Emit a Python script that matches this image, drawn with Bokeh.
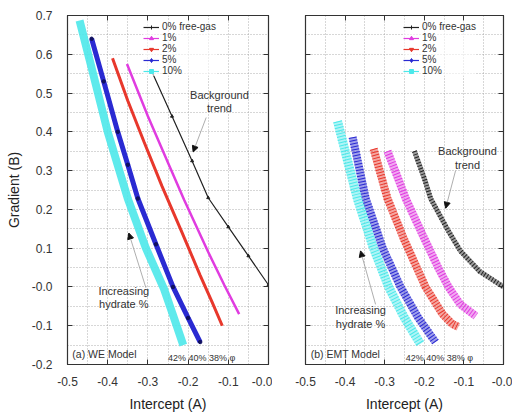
from bokeh.plotting import figure
from bokeh.layouts import row
from bokeh.models import (FixedTicker, LinearAxis, CustomJSTickFormatter, Label, Arrow,
                          NormalHead, Range1d, Legend, LegendItem)
from bokeh.embed import file_html
from bokeh.resources import INLINE

FONT = "Liberation Sans"
NAN = float("nan")

series_names = ["0% free-gas", "1%", "2%", "5%", "10%"]
series_colors = ["#222222", "#e03ce0", "#e8382c", "#2a2ad2", "#4ce8ea"]
legend_markers = ["cross", "triangle", "inverted_triangle", "diamond", "square"]

x_ticks = [-0.5, -0.4, -0.3, -0.2, -0.1, 0.0]
y_ticks = [-0.2, -0.1, 0.0, 0.1, 0.2, 0.3, 0.4, 0.5, 0.6, 0.7]
x_minor = [-0.45, -0.35, -0.25, -0.15, -0.05]
y_minor = [-0.15, -0.05, 0.05, 0.15, 0.25, 0.35, 0.45, 0.55, 0.65]

# (a) WE model
we_x = [
    [-0.29, -0.24, -0.19, -0.15, -0.10, -0.05, 0.0],
    [-0.352, -0.30, -0.25, -0.21, -0.15, -0.11, -0.073],
    [-0.388, -0.35, -0.31, -0.265, -0.215, -0.17, -0.14, -0.115],
    [-0.44, -0.41, -0.375, -0.35, -0.325, -0.28, -0.2375, -0.20, -0.17],
    [-0.47, -0.44, -0.40, -0.35, -0.305, -0.26, -0.235, -0.212],
]
we_y = [
    [0.555, 0.44, 0.325, 0.23, 0.155, 0.08, 0.005],
    [0.575, 0.44, 0.32, 0.225, 0.09, 0.005, -0.07],
    [0.59, 0.48, 0.375, 0.26, 0.14, 0.03, -0.04, -0.10],
    [0.64, 0.53, 0.40, 0.315, 0.228, 0.11, 0.0, -0.08, -0.142],
    [0.687, 0.565, 0.40, 0.228, 0.10, -0.005, -0.08, -0.15],
]

# (b) EMT model
emt_x = [
    [-0.225, -0.20, -0.184, -0.139, -0.109, -0.06, 0.0],
    [-0.293, -0.27, -0.247, -0.20, -0.165, -0.139, -0.109, -0.07],
    [-0.328, -0.31, -0.293, -0.25, -0.197, -0.154, -0.13, -0.114],
    [-0.381, -0.365, -0.348, -0.305, -0.26, -0.215, -0.172],
    [-0.419, -0.395, -0.369, -0.33, -0.29, -0.25, -0.21],
]
emt_y = [
    [0.35, 0.28, 0.228, 0.144, 0.093, 0.04, 0.0],
    [0.35, 0.29, 0.228, 0.125, 0.05, 0.0, -0.045, -0.075],
    [0.356, 0.29, 0.228, 0.12, 0.0, -0.07, -0.095, -0.103],
    [0.386, 0.31, 0.228, 0.10, 0.0, -0.08, -0.142],
    [0.427, 0.33, 0.228, 0.105, 0.0, -0.08, -0.147],
]

FMT_CODE = """
const s = tick.toFixed(1);
return (s === "0.0" || s === "-0.0") ? "-0.0" : s;
"""
BLANK_CODE = "return '';"


def make_panel(width, border_left, border_right, show_y):
    p = figure(width=width, height=414, output_backend="svg", toolbar_location=None,
               x_range=Range1d(-0.5, 0.0), y_range=Range1d(-0.2, 0.7),
               min_border_left=border_left, min_border_right=border_right,
               min_border_top=15, min_border_bottom=46)
    p.background_fill_color = "white"
    p.outline_line_color = "#333333"
    p.outline_line_width = 1.2
    xt = FixedTicker(ticks=x_ticks, minor_ticks=x_minor)
    yt = FixedTicker(ticks=y_ticks, minor_ticks=y_minor)
    p.xaxis.ticker = xt
    p.yaxis.ticker = yt
    p.xaxis.formatter = CustomJSTickFormatter(code=FMT_CODE)
    p.yaxis.formatter = CustomJSTickFormatter(code=FMT_CODE if show_y else BLANK_CODE)
    for ax in [p.xaxis[0], p.yaxis[0]]:
        ax.major_tick_in = 5
        ax.major_tick_out = 0
        ax.minor_tick_line_color = None
        ax.axis_line_color = "#333333"
        ax.major_tick_line_color = "#333333"
        ax.major_label_text_font = FONT
        ax.major_label_text_font_size = "12px"
        ax.major_label_text_color = "#333333"
        ax.axis_label_text_font = FONT
        ax.axis_label_text_font_style = "normal"
        ax.axis_label_text_font_size = "14px"
        ax.axis_label_text_color = "#222222"
    p.xaxis.axis_label = "Intercept (A)"
    p.xaxis.axis_label_standoff = 7
    p.xaxis.major_label_standoff = 8
    if show_y:
        p.yaxis.axis_label = "Gradient (B)"
        p.yaxis.axis_label_standoff = 7
        p.yaxis.major_label_standoff = 11
    else:
        p.yaxis.major_label_standoff = 0
    for loc, tk in [("above", xt), ("right", yt)]:
        ax = LinearAxis(ticker=tk, formatter=CustomJSTickFormatter(code=BLANK_CODE),
                        major_tick_in=5, major_tick_out=0, major_label_standoff=0,
                        minor_tick_line_color=None, axis_line_color="#333333",
                        major_tick_line_color="#333333")
        p.add_layout(ax, loc)
    for g in [p.xgrid[0], p.ygrid[0]]:
        g.grid_line_color = "#9a9a9a"
        g.grid_line_dash = "1 2"
        g.grid_line_width = 0.8
        g.minor_grid_line_color = "#9a9a9a"
        g.minor_grid_line_dash = "1 2"
        g.minor_grid_line_width = 0.8
    return p


def add_text(p, x, y, text, size, align="left", baseline="middle", color="#333333"):
    p.add_layout(Label(x=x, y=y, text=text, text_font=FONT, text_font_size=size,
                       text_align=align, text_baseline=baseline, text_color=color,
                       text_line_height=1.1))


def add_arrow(p, x0, y0, x1, y1):
    p.add_layout(Arrow(end=NormalHead(size=6, fill_color="#111111", line_color="#111111"),
                       x_start=x0, y_start=y0, x_end=x1, y_end=y1,
                       line_color="#999999", line_width=0.8))


def add_legend(p, loc):
    items = []
    for name, col, mk in zip(series_names, series_colors, legend_markers):
        rl = p.line(x=[NAN], y=[NAN], line_color=col, line_width=1.2)
        rm = p.scatter(x=[NAN], y=[NAN], marker=mk, size=5, line_color=col, fill_color=col)
        items.append(LegendItem(label=name, renderers=[rl, rm]))
    leg = Legend(items=items, location=loc, border_line_color=None,
                 background_fill_alpha=0.6, label_text_font=FONT,
                 label_text_font_size="10px", label_text_color="#333333",
                 glyph_width=16, glyph_height=10, label_height=10, spacing=0,
                 padding=2, margin=0, label_standoff=3)
    p.add_layout(leg)


# ---- panel (a)
p1 = make_panel(272, 67, 4, True)
we_widths = [1.2, 2.5, 3, 5, 8]
for i in range(5):
    p1.line(we_x[i], we_y[i], line_color=series_colors[i], line_width=we_widths[i],
            line_alpha=0.9 if i == 4 else 1.0)
p1.scatter(we_x[3], we_y[3], size=3.5, color="#101060")
p1.scatter(we_x[0], we_y[0], marker="triangle", size=3, color="#222222")
add_legend(p1, (76, 288))
add_text(p1, -0.122, 0.51, "Background\ntrend", "11px", align="center", baseline="top")
add_arrow(p1, -0.155, 0.437, -0.1875, 0.348)
add_text(p1, -0.36, 0.005, "Increasing\nhydrate %", "11px", align="center", baseline="top")
add_arrow(p1, -0.305, -0.002, -0.3475, 0.139)
add_text(p1, -0.488, -0.172, "(a) WE Model", "10.5px")
add_text(p1, -0.25, -0.184, "42% 40% 38% \u03c6", "9px")

# ---- panel (b)
p2 = make_panel(240, 33, 9, False)
emt_widths = [5, 8, 8, 8, 9]
for i in range(5):
    p2.line(emt_x[i], emt_y[i], line_color=series_colors[i], line_width=emt_widths[i],
            line_alpha=0.45)
    p2.line(emt_x[i], emt_y[i], line_color=series_colors[i], line_width=emt_widths[i],
            line_dash="1 2")
add_legend(p2, (98, 288))
add_text(p2, -0.091, 0.365, "Background\ntrend", "11px", align="center", baseline="top")
add_arrow(p2, -0.121, 0.30, -0.146, 0.203)
add_text(p2, -0.361, -0.045, "Increasing\nhydrate %", "11px", align="center", baseline="top")
add_arrow(p2, -0.323, -0.045, -0.361, 0.093)
add_text(p2, -0.487, -0.172, "(b) EMT Model", "10.5px")
add_text(p2, -0.247, -0.184, "42% 40% 38% \u03c6", "9px")

layout = row(p1, p2)
open("out.html", "w").write(file_html(layout, INLINE))
